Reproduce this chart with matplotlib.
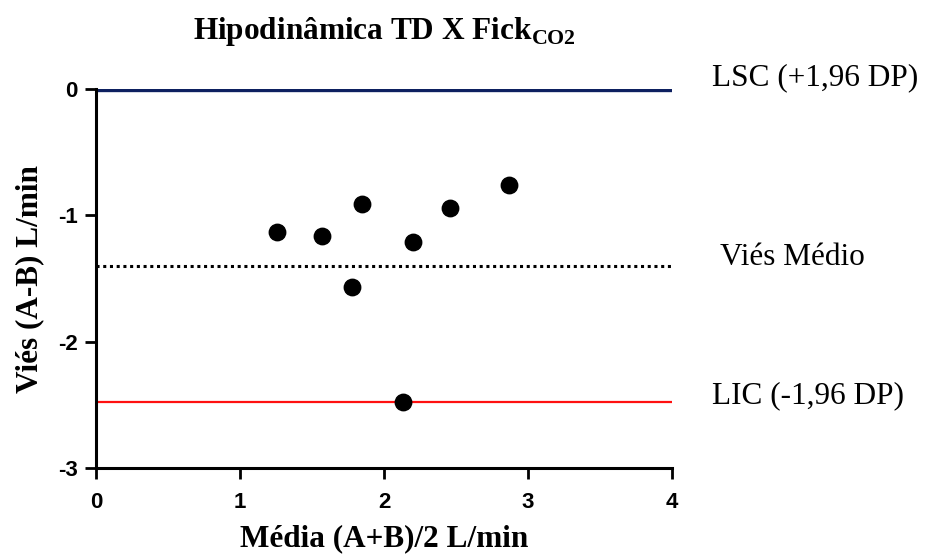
import matplotlib
matplotlib.use('Agg')
import matplotlib.pyplot as plt

plt.rcParams['axes.unicode_minus'] = False

# dados
media = [1.26, 1.57, 1.85, 1.78, 2.20, 2.46, 2.87, 2.13]
vies = [-1.13, -1.16, -0.91, -1.57, -1.21, -0.94, -0.76, -2.48]

lsc = -0.01
vies_medio = -1.40
lic = -2.48

fig = plt.figure(figsize=(9.27, 5.56), dpi=100)
ax = fig.add_axes([0.1036, 0.158, 0.6214, 0.682])

ax.plot([0, 4], [lsc, lsc], color='#0d2060', lw=2.4, solid_capstyle='butt', zorder=2)
ax.plot([0, 4], [vies_medio, vies_medio], color='black', lw=2.2, linestyle=(0, (1, 1.2)), zorder=2)
ax.plot([0, 4], [lic, lic], color='#ff1010', lw=1.6, zorder=2)
ax.scatter(media, vies, s=140, color='black', zorder=3)

ax.set_xlim(0, 4)
ax.set_ylim(-3, 0)
ax.set_xticks([0, 1, 2, 3, 4])
ax.set_yticks([-3, -2, -1, 0])
for lab in ax.get_xticklabels() + ax.get_yticklabels():
    lab.set_family('Liberation Sans')
    lab.set_weight('bold')
    lab.set_fontsize(16)
ax.tick_params(length=8, width=2)
ax.tick_params(axis='x', pad=9)
ax.tick_params(axis='y', pad=5)

for s in ['top', 'right']:
    ax.spines[s].set_visible(False)
for s in ['left', 'bottom']:
    ax.spines[s].set_linewidth(2.2)

ax.set_xlabel('Média (A+B)/2 L/min', family='Liberation Serif', weight='bold', fontsize=22.5, labelpad=8)
ax.set_ylabel('Viés (A-B) L/min', family='Liberation Serif', weight='bold', fontsize=22.5, labelpad=10)
ax.set_title('Hipodinâmica TD X Fick$_\\mathregular{CO2}$', family='Liberation Serif',
             weight='bold', fontsize=22.5, pad=36)

ax.text(4.28, 0.09, 'LSC (+1,96 DP)', family='Liberation Serif', fontsize=22.5, va='center', clip_on=False)
ax.text(4.33, -1.33, 'Viés Médio', family='Liberation Serif', fontsize=22.5, va='center', clip_on=False)
ax.text(4.28, -2.43, 'LIC (-1,96 DP)', family='Liberation Serif', fontsize=22.5, va='center', clip_on=False)

fig.savefig('out.png', dpi=100)
